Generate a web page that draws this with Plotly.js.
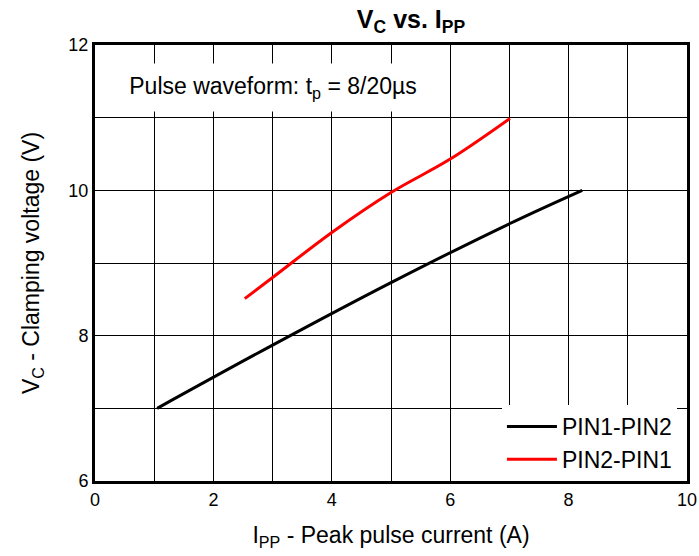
<!DOCTYPE html>
<html>
<head>
<meta charset="utf-8">
<script src="https://cdn.plot.ly/plotly-3.0.1.min.js"></script>
<style>body{margin:0;padding:0;background:#fff}#chart{width:699px;height:556px}</style>
</head>
<body>
<div id="chart"></div>
<script>
const pin12_I = [1.05, 3.0, 5.0, 7.0, 8.23];
const pin12_V = [7.0, 7.87, 8.73, 9.54, 10.0];
const pin21_I = [2.53, 3.0, 4.0, 5.0, 6.0, 7.01];
const pin21_V = [8.51, 8.80, 9.42, 9.97, 10.43, 10.99];
const xTicks = [0, 2, 4, 6, 8, 10];
const yTicks = [6, 8, 10, 12];

const font = "Liberation Sans, Arial, sans-serif";
const traces = [
  {x: pin12_I, y: pin12_V, name: "PIN1-PIN2", mode: "lines",
   line: {color: "#000000", width: 3, shape: "spline"}},
  {x: pin21_I, y: pin21_V, name: "PIN2-PIN1", mode: "lines",
   line: {color: "#ff0000", width: 3, shape: "spline"}}
];
const axisCommon = {
  showline: true, mirror: true, linecolor: "#000", linewidth: 3,
  showgrid: true, gridcolor: "#000", gridwidth: 1,
  zeroline: false, ticks: "", tickfont: {family: font, size: 18, color: "#000"},
  minor: {dtick: 1, showgrid: true, gridcolor: "#000", gridwidth: 1}
};
const layout = {
  width: 699, height: 556,
  margin: {l: 95, r: 12, t: 45, b: 75},
  paper_bgcolor: "#fff", plot_bgcolor: "#fff",
  title: {text: "<b>V<sub>C</sub> vs. I<sub>PP</sub></b>", font: {family: font, size: 25, color: "#000"},
          x: 0.588, xanchor: "center", y: 0.966, yanchor: "middle"},
  xaxis: Object.assign({}, axisCommon, {range: [0, 10], tickvals: xTicks, ticktext: xTicks.map(String),
    title: {text: "I<sub>PP</sub> - Peak pulse current (A)", font: {family: font, size: 23, color: "#000"}, standoff: 19}}),
  yaxis: Object.assign({}, axisCommon, {range: [6, 12], tickvals: yTicks, ticktext: yTicks.map(String),
    title: {text: "V<sub>C</sub> - Clamping voltage (V)", font: {family: font, size: 23, color: "#000"}, standoff: 23}}),
  showlegend: true,
  legend: {x: 0.983, xanchor: "right", y: 0.0, yanchor: "bottom", bgcolor: "#fff",
    font: {family: font, size: 23, color: "#000"}, itemwidth: 50, tracegroupgap: 0},
  annotations: [{
    xref: "paper", yref: "paper", x: 0.01, y: 0.959, xanchor: "left", yanchor: "top",
    text: "Pulse waveform: t<sub>p</sub> = 8/20µs", showarrow: false,
    font: {family: font, size: 23, color: "#000"}, bgcolor: "#fff",
    width: 340, height: 45, align: "center"
  }]
};
Plotly.newPlot("chart", traces, layout, {displayModeBar: false, staticPlot: true});
</script>
</body>
</html>
